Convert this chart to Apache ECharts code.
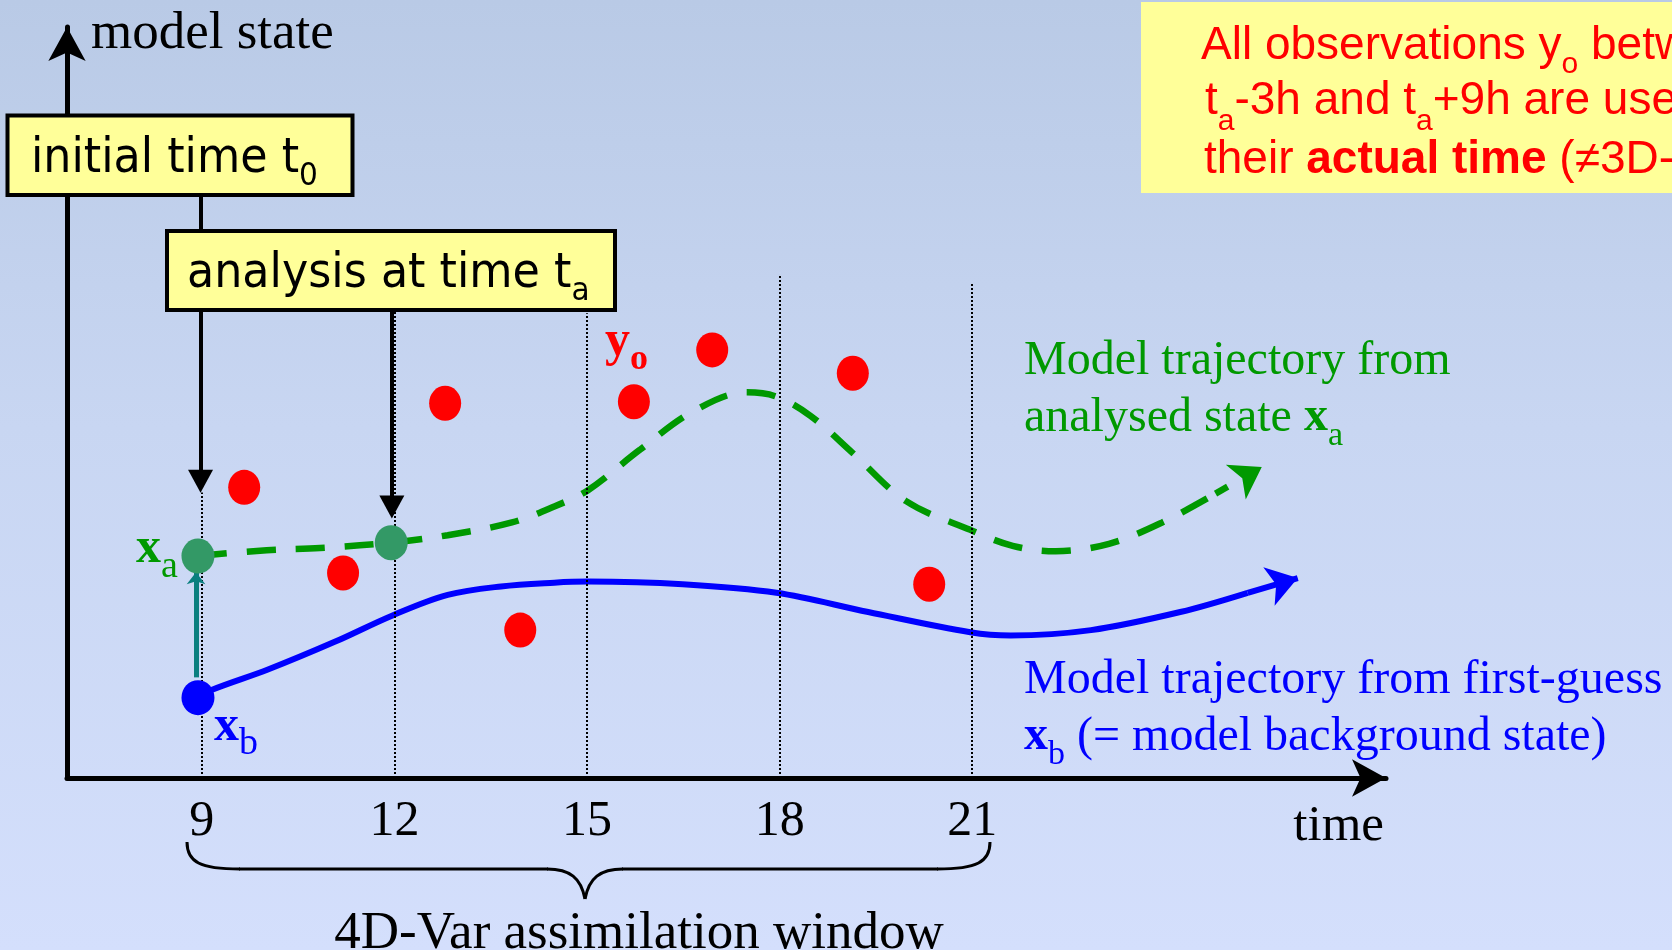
<!DOCTYPE html>
<html>
<head>
<meta charset="utf-8">
<title>4D-Var assimilation window</title>
<script src="https://cdn.jsdelivr.net/npm/echarts@6/dist/echarts.min.js"></script>
<style>
  html, body { margin: 0; padding: 0; }
  #chart {
    width: 1672px;
    height: 950px;
    background: linear-gradient(to bottom, #b9cae6 0%, #c8d6f2 45%, #d4dffc 100%);
  }
</style>
</head>
<body>
<div id="chart"></div>
<script>
(function() {
  'use strict';

  // time axis (hours) and the dotted markers
  var tickHours = [9, 12, 15, 18, 21];
  var dottedTop = [38.0, 62.3, 61.9, 67.0, 66.0];

  // observations y_o
  var obsTime = [9.66, 11.2, 12.79, 13.96, 15.73, 16.95, 19.14, 20.33];
  var obsState = [38.7, 27.3, 49.9, 19.7, 50.1, 57.0, 53.9, 25.8];

  // first-guess trajectory from x_b
  var bgTime = [8.94, 9.16, 10.03, 11.07, 11.98, 12.83, 13.66, 14.49, 15.01, 16.49,
    17.95, 19.38, 20.97, 21.6, 22.85, 24.24, 25.29];
  var bgState = [10.7, 11.74, 14.44, 18.13, 21.68, 24.38, 25.51, 26.01, 26.15, 25.8,
    24.66, 22.1, 19.41, 18.98, 19.69, 22.1, 24.66];
  var bgArrowEnd = [26.07, 26.63];

  // trajectory from analysed state x_a
  var anTime = [8.94, 10.01, 10.84, 11.95, 12.83, 13.83, 14.49, 15.01, 15.82, 16.65,
    17.48, 17.95, 18.48, 19.14, 19.97, 20.97, 21.63, 22.30, 23.13, 23.96, 24.79];
  var anState = [29.56, 30.34, 30.62, 31.33, 32.33, 34.03, 36.16, 38.29, 43.68, 48.80,
    51.35, 50.78, 48.23, 43.26, 36.87, 33.04, 30.91, 30.20, 31.19, 34.03, 37.86];
  var anArrowEnd = [25.51, 41.4];

  // x_b, x_a states
  var xbTime = [8.94];
  var xbState = [10.7];
  var xaTime = [8.94, 11.95];
  var xaState = [29.56, 31.33];

  // pointers from the boxes (time, from state, to state)
  var pointerTime = [8.98, 11.96];
  var pointerFrom = [77.6, 62.3];
  var pointerTo = [39.5, 36.1];

  // increment arrow x_b -> x_a
  var incrTime = 8.91;
  var incrFrom = 13.4;
  var incrTo = 27.4;

  var SERIF = '"Liberation Serif", "Times New Roman", serif';
  var SANS = '"Liberation Sans", Arial, sans-serif';
  var HAND = '"DejaVu Sans", sans-serif';
  var YELLOW = '#ffff99';
  var GREEN = '#009900';
  var BLUE = '#0000ff';
  var RED = '#ff0000';
  var MID = 0.25; // baseline offset of 'middle' text, in em

  var zip = function(xs, ys) {
    return xs.map(function(x, i) { return [x, ys[i]]; });
  };

  var ellipse = 'path://M50,0A50,50,0,1,1,50,100A50,50,0,1,1,50,0Z';

  /**
   * text with optional subscripts, placed by its left edge and baseline
   */
  function label(x, baseline, text, size, subSize, drop, family, color, extra) {
    subSize = subSize || size;
    var pad = Math.max(0, 2 * (drop + MID * (size - subSize)));
    var rich = {
      n: { fontSize: size, fontFamily: family, fill: color },
      b: { fontSize: size, fontFamily: family, fill: color, fontWeight: 'bold' },
      s: { fontSize: subSize, fontFamily: family, fill: color, padding: [pad, 0, 0, 0] },
      sb: { fontSize: subSize, fontFamily: family, fill: color, fontWeight: 'bold',
        padding: [pad, 0, 0, 0] }
    };
    var el = {
      type: 'text',
      z: 100,
      x: x,
      y: baseline - MID * size,
      style: { text: text, rich: rich, verticalAlign: 'middle', align: 'left' }
    };
    if (extra) {
      if (extra.align) { el.style.align = extra.align; }
      if (extra.scaleX) { el.scaleX = extra.scaleX; }
    }
    return el;
  }

  function curve(x1, y1, c1x, c1y, c2x, c2y, x2, y2) {
    return { type: 'bezierCurve', z: 50,
      shape: { x1: x1, y1: y1, cpx1: c1x, cpy1: c1y, cpx2: c2x, cpy2: c2y, x2: x2, y2: y2 },
      style: { fill: null, stroke: '#000', lineWidth: 3 } };
  }

  function segment(x1, y1, x2, y2) {
    return { type: 'line', z: 50,
      shape: { x1: x1, y1: y1, x2: x2, y2: y2 },
      style: { stroke: '#000', lineWidth: 3 } };
  }

  // a single mark line ending in a head
  function headed(from, to, head, size) {
    return [
      { coord: from, symbol: 'none' },
      { coord: to, symbol: head, symbolSize: size }
    ];
  }

  var graphics = [
    // box in the upper right corner
    { type: 'rect', z: 90, shape: { x: 1141, y: 2, width: 560, height: 191 },
      style: { fill: YELLOW } },
    label(1201, 58, '{n|All observations y}{s|o}{n| between}', 46, 30, 14, SANS, RED),
    label(1205, 113, '{n|t}{s|a}{n|-3h and t}{s|a}{n|+9h are used at}', 46, 30, 16, SANS, RED),
    label(1204, 172, '{n|their }{b|actual time}{n| (\u22603D-Var)}', 46, 0, 0, SANS, RED),

    // boxes with the two times
    { type: 'rect', z: 90, shape: { x: 7.5, y: 115.5, width: 345, height: 79.5 },
      style: { fill: YELLOW, stroke: '#000', lineWidth: 4 } },
    label(31, 172, '{n|initial time t}{s|0}', 48, 32, 13, HAND, '#000', { scaleX: 0.925 }),
    { type: 'rect', z: 90, shape: { x: 167, y: 231, width: 448, height: 79 },
      style: { fill: YELLOW, stroke: '#000', lineWidth: 4 } },
    label(187, 287, '{n|analysis at time t}{s|a}', 48, 32, 13, HAND, '#000', { scaleX: 0.925 }),

    // axis titles
    label(91, 47, '{n|model state}', 53, 0, 0, SERIF, '#000'),
    label(1384, 839, '{n|time}', 51, 0, 0, SERIF, '#000', { align: 'right' }),

    // state labels
    label(136, 562, '{b|x}{s|a}', 50, 38, 15, SERIF, GREEN),
    label(214, 740, '{b|x}{s|b}', 50, 38, 14, SERIF, BLUE),
    label(605, 355, '{b|y}{sb|o}', 50, 36, 14, SERIF, RED),

    // trajectory captions
    label(1024, 373, '{n|Model trajectory from}', 48, 0, 0, SERIF, GREEN),
    label(1024, 430, '{n|analysed state }{b|x}{s|a}', 48, 34, 15, SERIF, GREEN),
    label(1024, 692, '{n|Model trajectory from first-guess}', 48, 0, 0, SERIF, BLUE),
    label(1024, 749, '{b|x}{s|b}{n| (= model background state)}', 48, 34, 15, SERIF, BLUE),

    // assimilation window brace
    curve(187, 842, 187, 862, 200, 869, 240, 869),
    segment(239, 869, 548, 869),
    curve(547, 869, 570, 869, 581, 878, 585, 899),
    curve(585, 899, 589, 878, 600, 869, 623, 869),
    segment(622, 869, 938, 869),
    curve(937, 869, 977, 869, 990, 862, 990, 842),
    label(639, 947, '{n|4D-Var assimilation window}', 53, 0, 0, SERIF, '#000', { align: 'center' })
  ];

  var option = {
    animation: false,
    backgroundColor: 'transparent',
    grid: { left: 67, right: 286, top: 27, bottom: 172, containLabel: false },
    xAxis: {
      type: 'value',
      min: 6.9,
      max: 27.445,
      splitLine: { show: false },
      axisTick: { show: false },
      axisLine: {
        show: true,
        onZero: false,
        symbol: ['none', 'arrow'],
        symbolSize: [28, 34],
        lineStyle: { color: '#000', width: 5 }
      },
      axisLabel: {
        customValues: tickHours,
        fontFamily: SERIF,
        fontSize: 50,
        color: '#000',
        margin: 19
      }
    },
    yAxis: {
      type: 'value',
      min: 0,
      max: 100,
      splitLine: { show: false },
      axisTick: { show: false },
      axisLabel: { show: false },
      axisLine: {
        show: true,
        onZero: false,
        symbol: ['none', 'arrow'],
        symbolSize: [28, 34],
        lineStyle: { color: '#000', width: 5 }
      }
    },
    graphic: graphics,
    series: [
      {
        // dotted time markers
        type: 'line',
        data: [],
        silent: true,
        markLine: {
          silent: true,
          animation: false,
          symbol: ['none', 'none'],
          label: { show: false },
          lineStyle: { color: '#000', type: 'dotted', width: 2 },
          data: tickHours.map(function(h, i) {
            return [{ coord: [h, 0] }, { coord: [h, dottedTop[i]] }];
          })
        }
      },
      {
        // pointers from the boxes
        type: 'line',
        data: [],
        silent: true,
        z: 3,
        markLine: {
          silent: true,
          animation: false,
          label: { show: false },
          lineStyle: { color: '#000', type: 'solid', width: 4, opacity: 1 },
          data: pointerTime.map(function(t, i) {
            return headed([t, pointerFrom[i]], [t, pointerTo[i]], 'triangle', [25, 23]);
          })
        }
      },
      {
        // increment x_b -> x_a
        type: 'line',
        data: [],
        silent: true,
        z: 3,
        markLine: {
          silent: true,
          animation: false,
          label: { show: false },
          lineStyle: { color: '#0a7f7f', type: 'solid', width: 5, opacity: 1 },
          data: [headed([incrTime, incrFrom], [incrTime, incrTo], 'arrow', [14, 12])]
        }
      },
      {
        name: 'first guess',
        type: 'line',
        data: zip(bgTime, bgState),
        smooth: 0.35,
        showSymbol: false,
        silent: true,
        z: 4,
        lineStyle: { color: BLUE, width: 6 },
        markLine: {
          silent: true,
          animation: false,
          label: { show: false },
          lineStyle: { color: BLUE, type: 'solid', width: 6, opacity: 1 },
          data: [headed([bgTime[bgTime.length - 1], bgState[bgState.length - 1]],
            bgArrowEnd, 'arrow', [30, 30])]
        }
      },
      {
        name: 'analysis',
        type: 'line',
        data: zip(anTime, anState),
        smooth: 0.35,
        showSymbol: false,
        silent: true,
        z: 4,
        lineStyle: { color: GREEN, width: 6.5, type: [29, 20] },
        markLine: {
          silent: true,
          animation: false,
          label: { show: false },
          lineStyle: { color: GREEN, type: [14, 40], width: 6.5, opacity: 1 },
          data: [headed([anTime[anTime.length - 1], anState[anState.length - 1]],
            anArrowEnd, 'arrow', [30, 30])]
        }
      },
      {
        name: 'observations',
        type: 'scatter',
        data: zip(obsTime, obsState),
        symbol: ellipse,
        symbolSize: [32, 35],
        silent: true,
        z: 5,
        itemStyle: { color: RED, opacity: 1 }
      },
      {
        name: 'xa',
        type: 'scatter',
        data: zip(xaTime, xaState),
        symbol: ellipse,
        symbolSize: [33, 35],
        silent: true,
        z: 6,
        itemStyle: { color: '#339966', opacity: 1 }
      },
      {
        name: 'xb',
        type: 'scatter',
        data: zip(xbTime, xbState),
        symbol: ellipse,
        symbolSize: [33, 35],
        silent: true,
        z: 6,
        itemStyle: { color: BLUE, opacity: 1 }
      }
    ]
  };

  var chart = echarts.init(document.getElementById('chart'), null, { renderer: 'canvas' });
  chart.setOption(option);
})();
</script>
</body>
</html>
